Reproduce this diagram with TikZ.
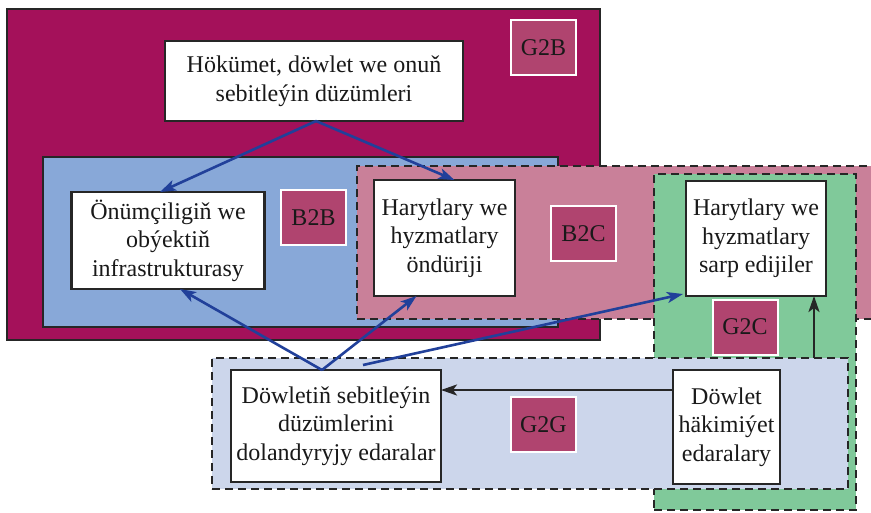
\documentclass[tikz,border=0pt]{standalone}
\usepackage{fontspec}
\setmainfont{Liberation Serif}
\usepackage{tikz}
\usetikzlibrary{arrows.meta}
\definecolor{gtobcol}{HTML}{A4115A}
\definecolor{btobcol}{HTML}{88A8D8}
\definecolor{btoccol}{HTML}{C98099}
\definecolor{gtoccol}{HTML}{80C99A}
\definecolor{gtogcol}{HTML}{CCD6EB}
\definecolor{tagcol}{HTML}{B0446F}
\definecolor{flowcol}{HTML}{21409A}

\begin{document}
\begin{tikzpicture}
  [x=1pt,y=-1pt,>={Stealth[length=16pt,width=11pt,inset=4pt]},
   zone/.style={rectangle,draw=black!85,line width=2.8pt,inner sep=0,outer sep=0},
   dashzone/.style={zone,dash pattern=on 8pt off 5pt},
   actor/.style={rectangle,draw=black!85,fill=white,line width=2.8pt,align=center,
                 inner sep=2pt,outer sep=0,text=black!90,
                 font=\fontsize{24}{28.5}\selectfont},
   tag/.style={rectangle,draw=white,fill=tagcol,line width=2pt,align=center,
               inner sep=0,outer sep=0,minimum width=65,minimum height=55,
               text=black!90,font=\fontsize{24}{28.5}\selectfont},
   flow/.style={draw=flowcol,line width=2.6pt,->},
   plain/.style={draw=black!85,line width=2.4pt,->}]
  \useasboundingbox (0,0) rectangle (871,512);
  \node[zone,fill=gtobcol,minimum width=593,minimum height=331] (g2bzone) at (303.5,174.5) {};
  \node[zone,fill=btobcol,minimum width=515,minimum height=170] (b2bzone) at (300.5,242) {};
  \node[dashzone,fill=btoccol,minimum width=523,minimum height=153] (b2czone) at (618.5,242.5) {};
  \node[dashzone,fill=gtoccol,minimum width=202,minimum height=336] (g2czone) at (755,342) {};
  \node[dashzone,fill=gtogcol,minimum width=636,minimum height=131] (g2gzone) at (530,423.5) {};
  \node[tag] (G2B) at (543.5,47.5) {G2B};
  \node[tag] (B2B) at (313.5,217.5) {B2B};
  \node[tag] (B2C) at (583.5,233.5) {B2C};
  \node[tag] (G2C) at (745,327) {G2C};
  \node[tag] (G2G) at (543.5,424.5) {G2G};
  \node[actor,minimum width=298,minimum height=80] (gov) at (314,81) {Hökümet, döwlet we onuň\\sebitleýin düzümleri};
  \node[actor,minimum width=193,minimum height=97] (infra) at (168,240.5) {Önümçiligiň we\\obýektiň\\infrastrukturasy};
  \node[actor,minimum width=141,minimum height=116] (producer) at (444.5,238) {Harytlary we\\hyzmatlary\\öndüriji};
  \node[actor,minimum width=140,minimum height=115] (consumer) at (756,238.5) {Harytlary we\\hyzmatlary\\sarp edijiler};
  \node[actor,minimum width=210,minimum height=112] (regional) at (336,426) {Döwletiň sebitleýin\\düzümlerini\\dolandyryjy edaralar};
  \node[actor,minimum width=107,minimum height=114] (authority) at (726.5,427) {Döwlet\\häkimiýet\\edaralary};
  \coordinate (upfoot) at ([xshift=58pt]consumer.south);
  \draw[flow] ([xshift=2pt]gov.south) to ([xshift=-8pt]infra.north);
  \draw[flow] ([xshift=2pt]gov.south) to ([xshift=10pt]producer.north);
  \draw[flow] ([xshift=-14pt]regional.north) to ([xshift=12pt]infra.south);
  \draw[flow] ([xshift=-14pt]regional.north) to ([xshift=-28pt]producer.south);
  \draw[flow] ([xshift=27pt,yshift=5pt]regional.north) to ([shift={(-3pt,2pt)}]consumer.south west);
  \draw[plain] ([yshift=37pt]authority.west) to ([yshift=37pt]authority.west -| regional.east);
  \draw[plain] (upfoot |- g2gzone.north) to (upfoot);
\end{tikzpicture}
\end{document}
